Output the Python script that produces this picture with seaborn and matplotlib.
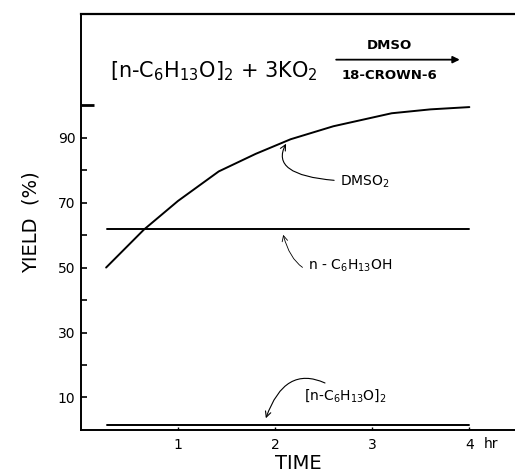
import matplotlib
matplotlib.use("Agg")
import matplotlib.pyplot as plt
import pandas as pd
import seaborn as sns

sns.set_style("ticks")
plt.rcParams["font.family"] = ["DejaVu Sans"]
plt.rcParams["text.color"] = "black"
plt.rcParams["axes.labelcolor"] = "black"
plt.rcParams["xtick.color"] = "black"
plt.rcParams["ytick.color"] = "black"
plt.rcParams["axes.edgecolor"] = "black"

# values
time_dmso2 = [0.26, 0.65, 1.0, 1.42, 1.8, 2.16, 2.6, 3.2, 3.6, 4.0]
yield_dmso2 = [50, 61.7, 70.5, 79.6, 85, 89.5, 93.5, 97.5, 98.7, 99.4]
time_hexanol = [0.27, 4.0]
yield_hexanol = [61.8, 61.8]
time_peroxide = [0.27, 4.0]
yield_peroxide = [1.5, 1.5]

y_ticks = [10, 20, 30, 40, 50, 60, 70, 80, 90, 100]
y_labels = ["10", "", "30", "", "50", "", "70", "", "90", ""]
x_ticks = [1, 2, 3, 4]
x_labels = ["1", "2", "3", "4"]

df = pd.concat([
    pd.DataFrame({"time": time_dmso2, "yield": yield_dmso2, "species": "DMSO2"}),
    pd.DataFrame({"time": time_hexanol, "yield": yield_hexanol, "species": "hexanol"}),
    pd.DataFrame({"time": time_peroxide, "yield": yield_peroxide, "species": "peroxide"}),
])

fig = plt.figure(figsize=(5.15, 4.73), dpi=100)
ax = fig.add_axes([0.157, 0.091, 0.843, 0.879])

sns.lineplot(
    data=df, x="time", y="yield", hue="species",
    palette=["black", "black", "black"], linewidth=1.4,
    legend=False, ax=ax, sort=False
)

ax.set_xlim(0, 4.47)
ax.set_ylim(0, 128)
ax.spines["right"].set_visible(False)
ax.spines["top"].set_linewidth(1.6)
ax.spines["left"].set_linewidth(1.4)
ax.spines["bottom"].set_linewidth(1.4)

ax.set_yticks(y_ticks)
ax.set_yticklabels(y_labels, fontsize=10)
ax.tick_params(axis="y", direction="in", length=4, width=1.2, pad=4)
ax.yaxis.get_major_ticks()[-1].tick1line.set_markersize(9)
ax.yaxis.get_major_ticks()[-1].tick1line.set_markeredgewidth(2)

ax.set_xticks(x_ticks)
ax.set_xticklabels(x_labels, fontsize=10)
ax.tick_params(axis="x", direction="in", length=2, width=1, pad=6)
ax.text(4.22, -0.018, "hr", transform=ax.get_xaxis_transform(),
        ha="center", va="top", fontsize=10)

ax.set_xlabel("TIME", fontsize=14, labelpad=1)
ax.set_ylabel("YIELD  (%)", fontsize=14, labelpad=12)

# reaction scheme
ax.text(0.3, 110.5, r"$[$n-C$_6$H$_{13}$O$]_2$ + 3KO$_2$", fontsize=15,
        ha="left", va="center")
ax.annotate("", xy=(3.93, 114), xytext=(2.6, 114),
            arrowprops=dict(arrowstyle="-|>", color="black", lw=1.3,
                            mutation_scale=10))
ax.text(3.18, 116.5, "DMSO", fontsize=9.5, fontweight="bold",
        ha="center", va="bottom")
ax.text(3.18, 111, "18-CROWN-6", fontsize=9.5, fontweight="bold",
        ha="center", va="top")

# curve labels
ax.annotate(r"DMSO$_2$", xy=(2.12, 88.5), xytext=(2.67, 76.5),
            fontsize=10, va="center",
            arrowprops=dict(arrowstyle="->", color="black", lw=0.8,
                            connectionstyle="angle3,angleA=180,angleB=60",
                            shrinkA=2, shrinkB=1))
ax.annotate(r"n - C$_6$H$_{13}$OH", xy=(2.08, 60.5), xytext=(2.34, 50.5),
            fontsize=10, va="center",
            arrowprops=dict(arrowstyle="->", color="black", lw=0.6,
                            connectionstyle="arc3,rad=-0.6",
                            shrinkA=2, shrinkB=1))
ax.annotate(r"$[$n-C$_6$H$_{13}$O$]_2$", xy=(1.9, 3.2), xytext=(2.3, 10.5),
            fontsize=10, va="center",
            arrowprops=dict(arrowstyle="->", color="black", lw=0.8,
                            connectionstyle="arc3,rad=0.7",
                            shrinkA=2, shrinkB=1))

fig.savefig("out.png", dpi=100)
